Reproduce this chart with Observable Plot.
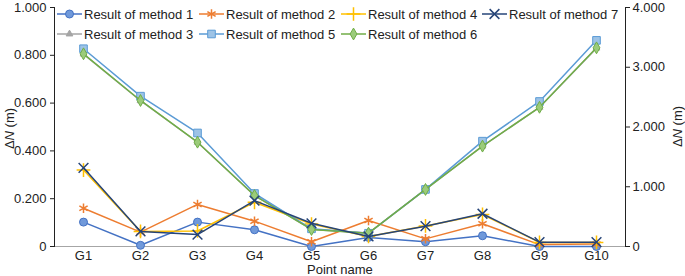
<!DOCTYPE html>
<html>
<head>
<meta charset="utf-8">
<script src="https://cdn.jsdelivr.net/npm/d3@7"></script>
<script src="https://cdn.jsdelivr.net/npm/@observablehq/plot@0.6"></script>
<style>
  body { margin: 0; background: #fff; font-family: "Liberation Sans", Arial, sans-serif; }
  #wrap { position: relative; width: 685px; height: 276px; }
  .lg { position: absolute; display: flex; align-items: center; font-size: 13px; color: #222; white-space: nowrap; height: 16px; }
  .lg svg { margin-right: 2px; }
  .ylab { position: absolute; font-size: 13px; color: #222; white-space: nowrap; transform: rotate(-90deg); transform-origin: center center; }
  .xlab { position: absolute; font-size: 13px; line-height: 13px; color: #222; white-space: nowrap; }
</style>
</head>
<body>
<div id="wrap"></div>
<script>
// ---- data (ΔN in metres) ----
const points = ["G1","G2","G3","G4","G5","G6","G7","G8","G9","G10"];
const method1 = [0.102, 0.005, 0.102, 0.070, 0.000, 0.038, 0.020, 0.045, 0.000, 0.000];
const method2 = [0.160, 0.060, 0.176, 0.106, 0.020, 0.109, 0.032, 0.095, 0.008, 0.010];
const method3 = [3.220, 2.440, 1.745, 0.855, 0.285, 0.225, 0.955, 1.680, 2.330, 3.320];
const method4 = [0.320, 0.063, 0.065, 0.185, 0.094, 0.042, 0.086, 0.134, 0.017, 0.017];
const method5 = [3.310, 2.516, 1.900, 0.887, 0.296, 0.222, 0.955, 1.763, 2.427, 3.450];
const method6 = [3.225, 2.444, 1.746, 0.853, 0.285, 0.223, 0.955, 1.680, 2.330, 3.325];
const method7 = [0.329, 0.063, 0.050, 0.192, 0.097, 0.042, 0.085, 0.137, 0.018, 0.018];
const seriesNames = ["Result of method 1","Result of method 2","Result of method 3","Result of method 4","Result of method 5","Result of method 6","Result of method 7"];
const leftTicks = [0, 0.2, 0.4, 0.6, 0.8, 1.0];
const rightTicks = [0, 1, 2, 3, 4];

// ---- styling (not data) ----
const styles = [
  {values: method1, axis: "left",  stroke: "#4472C4", fill: "#7099DA", symbol: "circle",   r: 4},
  {values: method2, axis: "left",  stroke: "#ED7D31", fill: "none",    symbol: "asterisk", r: 4.5},
  {values: method3, axis: "right", stroke: "#A5A5A5", fill: "#A5A5A5", symbol: "triangle", r: 2.5},
  {values: method4, axis: "left",  stroke: "#FFC000", fill: "none",    symbol: "plus",     r: 4.5},
  {values: method5, axis: "right", stroke: "#5B9BD5", fill: "#9DC3E6", symbol: "square",   r: 4.3},
  {values: method6, axis: "right", stroke: "#70AD47", fill: "#9BCB7A", symbol: "diamond",  r: 3.6},
  {values: method7, axis: "left",  stroke: "#264478", fill: "none",    symbol: "times",    r: 4.5}
];
const rightFactor = 4; // right axis max 4.000 vs left 1.000

const marks = [];
marks.push(Plot.ruleY([0], {stroke: "#A6A6A6", strokeWidth: 1.2}));
marks.push(Plot.frame({anchor: "left", stroke: "#222"}));
marks.push(Plot.frame({anchor: "right", stroke: "#222"}));
styles.forEach((s, i) => {
  const rows = points.map((p, j) => ({point: p, value: s.values[j], name: seriesNames[i]}));
  const yv = d => s.axis === "right" ? d.value / rightFactor : d.value;
  marks.push(Plot.line(rows, {x: "point", y: yv, stroke: s.stroke, strokeWidth: 1.5}));
  const hollow = s.fill === "none";
  marks.push(Plot.dot(rows, {x: "point", y: yv, symbol: s.symbol, r: s.r,
    fill: hollow ? "none" : s.fill, stroke: s.stroke, strokeWidth: hollow ? 1.5 : 1}));
});
marks.push(Plot.axisY({anchor: "left", ticks: leftTicks, tickSize: 4, tickPadding: 4,
  tickFormat: d => d === 0 ? "0" : d.toFixed(3), fontSize: 13, label: null}));
marks.push(Plot.axisY({anchor: "right", ticks: rightTicks.map(t => t / rightFactor), tickSize: 4, tickPadding: 3,
  tickFormat: d => d === 0 ? "0" : (d * rightFactor).toFixed(3), fontSize: 13, label: null}));
marks.push(Plot.axisX({tickSize: 0, tickPadding: 4, fontSize: 13, label: null}));

const chart = Plot.plot({
  width: 685, height: 276,
  marginLeft: 54, marginRight: 60, marginTop: 7, marginBottom: 30,
  style: {fontFamily: "Liberation Sans, Arial, sans-serif", color: "#222", background: "#fff"},
  x: {type: "point", domain: points, padding: 0.5},
  y: {domain: [0, 1]},
  marks
});
const wrap = document.getElementById("wrap");
wrap.appendChild(chart);

// ---- legend (inside the plot area) ----
const legendPos = [
  {i: 0, x: 57,  y: 6},
  {i: 1, x: 199, y: 6},
  {i: 3, x: 341, y: 6},
  {i: 6, x: 482, y: 6},
  {i: 2, x: 57,  y: 26},
  {i: 4, x: 199, y: 26},
  {i: 5, x: 341, y: 26}
];
const symMap = {circle: d3.symbolCircle, asterisk: d3.symbolAsterisk, triangle: d3.symbolTriangle,
  plus: d3.symbolPlus, square: d3.symbolSquare, diamond: d3.symbolDiamond, times: d3.symbolTimes};
legendPos.forEach(({i, x, y}) => {
  const s = styles[i];
  const div = document.createElement("div");
  div.className = "lg";
  div.style.left = x + "px";
  div.style.top = y + "px";
  const hollow = s.fill === "none";
  const path = d3.symbol(symMap[s.symbol], Math.PI * s.r * s.r)();
  div.innerHTML = `<svg width="25" height="14" viewBox="0 0 25 14">
    <line x1="0" y1="7" x2="25" y2="7" stroke="${s.stroke}" stroke-width="1.5"/>
    <path d="${path}" transform="translate(12.5,7)" fill="${hollow ? "none" : s.fill}" stroke="${s.stroke}" stroke-width="${hollow ? 1.5 : 1}"/>
  </svg><span>${seriesNames[i]}</span>`;
  wrap.appendChild(div);
});

// ---- axis titles ----
function addYLabel(cx, cy) {
  const d = document.createElement("div");
  d.className = "ylab";
  d.innerHTML = "Δ<i>N</i> (m)";
  wrap.appendChild(d);
  const w = d.offsetWidth, h = d.offsetHeight;
  d.style.left = (cx - w / 2) + "px";
  d.style.top = (cy - h / 2) + "px";
}
addYLabel(9, 128);
addYLabel(677, 126);
const xl = document.createElement("div");
xl.className = "xlab";
xl.textContent = "Point name";
wrap.appendChild(xl);
xl.style.left = (340 - xl.offsetWidth / 2) + "px";
xl.style.top = "263px";
</script>
</body>
</html>
